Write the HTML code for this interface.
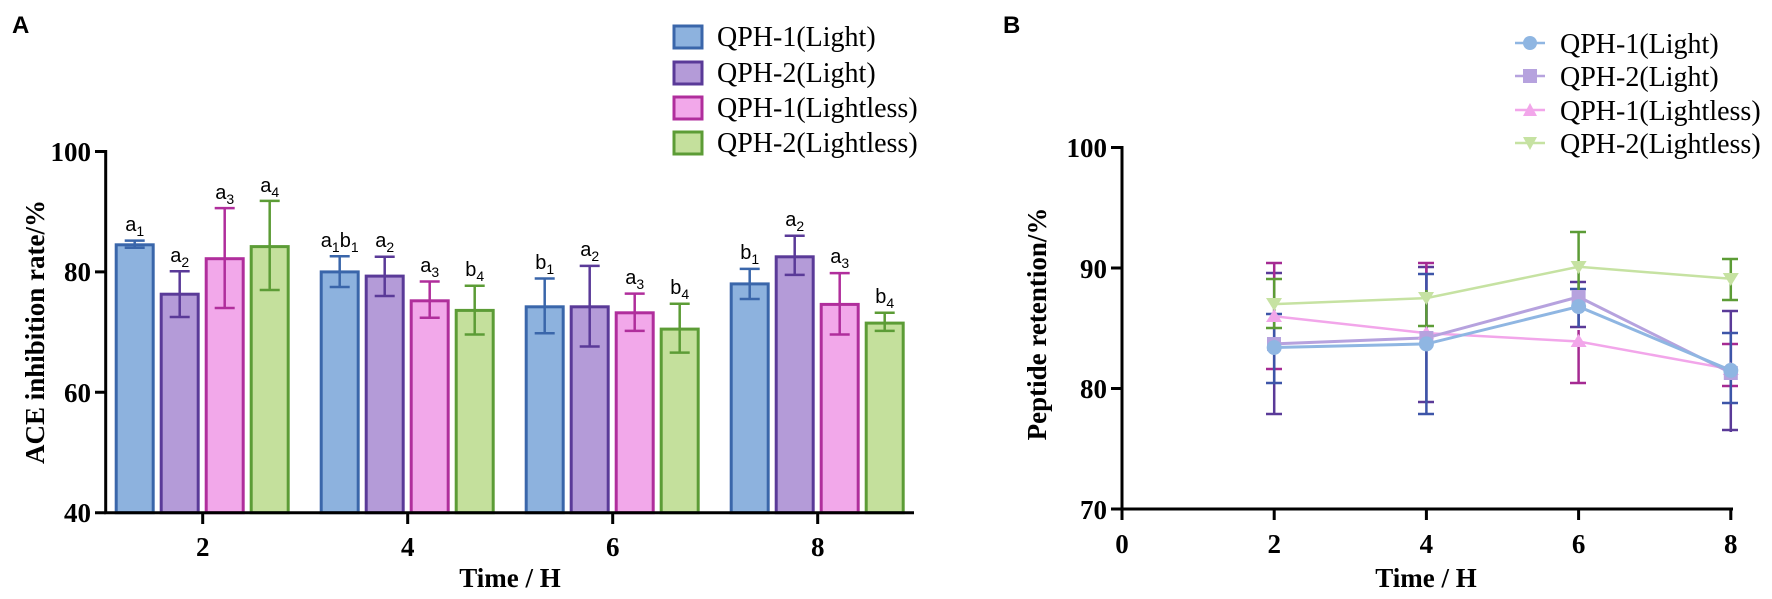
<!DOCTYPE html>
<html><head><meta charset="utf-8"><style>
html,body{margin:0;padding:0;background:#fff;}
svg{display:block;}
.t{font-family:"Liberation Serif",serif;font-weight:bold;font-size:27px;fill:#000;}
.lg{font-family:"Liberation Serif",serif;font-size:28px;fill:#000;}
.an{font-family:"Liberation Sans",sans-serif;font-size:20px;fill:#000;}
.an tspan.s{font-size:14px;}
</style></head><body>
<svg width="1772" height="599" viewBox="0 0 1772 599" xmlns="http://www.w3.org/2000/svg">
<text x="12" y="33" font-family="Liberation Sans,sans-serif" font-weight="bold" font-size="24">A</text>
<text x="1003" y="33" font-family="Liberation Sans,sans-serif" font-weight="bold" font-size="24">B</text>

<!-- Panel A bars -->
<g stroke-width="3">
<g fill="#8db2de" stroke="#3a66aa">
<rect x="116.2" y="244.8" width="37" height="267.9"/>
<rect x="321.2" y="271.9" width="37" height="240.8"/>
<rect x="526.2" y="306.8" width="37" height="205.9"/>
<rect x="731.2" y="283.9" width="37" height="228.8"/>
</g>
<g fill="#b49bd8" stroke="#5a3a98">
<rect x="161.2" y="294.2" width="37" height="218.5"/>
<rect x="366.2" y="276.1" width="37" height="236.6"/>
<rect x="571.2" y="306.8" width="37" height="205.9"/>
<rect x="776.2" y="256.8" width="37" height="255.9"/>
</g>
<g fill="#f2a8ea" stroke="#b02e9c">
<rect x="206.2" y="258.7" width="37" height="254"/>
<rect x="411.2" y="300.8" width="37" height="211.9"/>
<rect x="616.2" y="312.8" width="37" height="199.9"/>
<rect x="821.2" y="304.4" width="37" height="208.3"/>
</g>
<g fill="#c4e09c" stroke="#5c9c36">
<rect x="251.2" y="246.6" width="37" height="266.1"/>
<rect x="456.2" y="310.4" width="37" height="202.3"/>
<rect x="661.2" y="329.1" width="37" height="183.6"/>
<rect x="866.2" y="323.1" width="37" height="189.6"/>
</g>
</g>
<!-- Panel A error bars -->
<g stroke-width="2.5" fill="none">
<path stroke="#3a66aa" d="M134.7 247.8V240.6M124.7 240.6H144.7M124.7 247.8H144.7 M339.7 287V256.2M329.7 256.2H349.7M329.7 287H349.7 M544.7 333.3V278.5M534.7 278.5H554.7M534.7 333.3H554.7 M749.7 299V268.9M739.7 268.9H759.7M739.7 299H759.7"/>
<path stroke="#5a3a98" d="M179.7 317V271.3M169.7 271.3H189.7M169.7 317H189.7 M384.7 296V256.8M374.7 256.8H394.7M374.7 296H394.7 M589.7 346.5V265.9M579.7 265.9H599.7M579.7 346.5H599.7 M794.7 274.9V235.8M784.7 235.8H804.7M784.7 274.9H804.7"/>
<path stroke="#b02e9c" d="M224.7 308V208.1M214.7 208.1H234.7M214.7 308H234.7 M429.7 317.7V281.5M419.7 281.5H439.7M419.7 317.7H439.7 M634.7 330.9V293.6M624.7 293.6H644.7M624.7 330.9H644.7 M839.7 334.5V273.1M829.7 273.1H849.7M829.7 334.5H849.7"/>
<path stroke="#5c9c36" d="M269.7 290V200.9M259.7 200.9H279.7M259.7 290H279.7 M474.7 334.5V285.7M464.7 285.7H484.7M464.7 334.5H484.7 M679.7 352.6V303.8M669.7 303.8H689.7M669.7 352.6H689.7 M884.7 330.9V312.8M874.7 312.8H894.7M874.7 330.9H894.7"/>
</g>
<!-- annotations A -->
<g class="an" text-anchor="middle">
<text x="134.7" y="231">a<tspan class="s" dy="5">1</tspan></text>
<text x="179.7" y="262">a<tspan class="s" dy="5">2</tspan></text>
<text x="224.7" y="199">a<tspan class="s" dy="5">3</tspan></text>
<text x="269.7" y="192">a<tspan class="s" dy="5">4</tspan></text>
<text x="339.7" y="247">a<tspan class="s" dy="5">1</tspan><tspan dy="-5">b</tspan><tspan class="s" dy="5">1</tspan></text>
<text x="384.7" y="247">a<tspan class="s" dy="5">2</tspan></text>
<text x="429.7" y="272">a<tspan class="s" dy="5">3</tspan></text>
<text x="474.7" y="276">b<tspan class="s" dy="5">4</tspan></text>
<text x="544.7" y="269">b<tspan class="s" dy="5">1</tspan></text>
<text x="589.7" y="256">a<tspan class="s" dy="5">2</tspan></text>
<text x="634.7" y="284">a<tspan class="s" dy="5">3</tspan></text>
<text x="679.7" y="294">b<tspan class="s" dy="5">4</tspan></text>
<text x="749.7" y="259">b<tspan class="s" dy="5">1</tspan></text>
<text x="794.7" y="226">a<tspan class="s" dy="5">2</tspan></text>
<text x="839.7" y="263">a<tspan class="s" dy="5">3</tspan></text>
<text x="884.7" y="303">b<tspan class="s" dy="5">4</tspan></text>
</g>
<!-- Panel A axes -->
<g stroke="#000" stroke-width="3" fill="none">
<path d="M105.7 150V514.2M104.2 512.7H914"/>
<path d="M95 151.5H105.7M95 271.9H105.7M95 392.3H105.7M95 512.7H105.7"/>
<path d="M202.7 512.7V524M407.7 512.7V524M612.7 512.7V524M817.7 512.7V524"/>
</g>
<g class="t" text-anchor="end">
<text x="91" y="161">100</text><text x="91" y="281">80</text><text x="91" y="402">60</text><text x="91" y="522">40</text>
</g>
<g class="t" text-anchor="middle">
<text x="202.7" y="556">2</text><text x="407.7" y="556">4</text><text x="612.7" y="556">6</text><text x="817.7" y="556">8</text>
<text x="510" y="587">Time / H</text>
<text transform="translate(44,332) rotate(-90)">ACE inhibition rate/%</text>
</g>
<!-- legend A -->
<g stroke-width="3">
<rect x="674" y="26" width="28" height="22" fill="#8db2de" stroke="#3a66aa"/>
<rect x="674" y="62" width="28" height="22" fill="#b49bd8" stroke="#5a3a98"/>
<rect x="674" y="97" width="28" height="22" fill="#f2a8ea" stroke="#b02e9c"/>
<rect x="674" y="132" width="28" height="22" fill="#c4e09c" stroke="#5c9c36"/>
</g>
<g class="lg">
<text x="717" y="46">QPH-1(Light)</text>
<text x="717" y="82">QPH-2(Light)</text>
<text x="717" y="117">QPH-1(Lightless)</text>
<text x="717" y="152">QPH-2(Lightless)</text>
</g>

<!-- Panel B axes -->
<g stroke="#000" stroke-width="3" fill="none">
<path d="M1122 146V510.5M1120.5 509H1733"/>
<path d="M1111 147.5H1122M1111 268H1122M1111 388.5H1122M1111 509H1122"/>
<path d="M1122 509V520M1274.2 509V520M1426.4 509V520M1578.6 509V520M1730.8 509V520"/>
</g>
<g class="t" text-anchor="end">
<text x="1107" y="157">100</text><text x="1107" y="278">90</text><text x="1107" y="398">80</text><text x="1107" y="519">70</text>
</g>
<g class="t" text-anchor="middle">
<text x="1122" y="553">0</text><text x="1274.2" y="553">2</text><text x="1426.4" y="553">4</text><text x="1578.6" y="553">6</text><text x="1730.8" y="553">8</text>
<text x="1426" y="587">Time / H</text>
<text transform="translate(1046,324) rotate(-90)">Peptide retention/%</text>
</g>
<!-- Panel B error bars -->
<g stroke-width="2.5" fill="none">
<path stroke="#5a3a98" d="M1274.2 273V414M1266 273H1282M1266 414H1282 M1426.4 267V402M1418 267H1434M1418 402H1434 M1578.6 282V327M1570 282H1586M1570 327H1586 M1730.8 311V432M1722 311H1738M1722 430H1738"/>
<path stroke="#a52a92" d="M1274.2 263V369M1266 263H1282M1266 369H1282 M1426.4 263V330M1418 263H1434 M1578.6 330V383M1570 383H1586 M1730.8 344V386M1722 344H1738M1722 386H1738"/>
<path stroke="#3d55a8" d="M1274.2 314V383M1266 314H1282M1266 383H1282 M1426.4 274V414M1418 274H1434M1418 414H1434 M1578.6 289V327M1570 289H1586 M1730.8 333V403M1722 333H1738M1722 403H1738"/>
<path stroke="#5c9c36" d="M1274.2 279V328M1266 279H1282M1266 328H1282 M1426.4 290V326M1418 326H1434 M1578.6 232V300M1570 232H1586 M1730.8 259V300M1722 259H1738M1722 300H1738"/>
</g>
<!-- Panel B lines -->
<g fill="none" stroke-width="2.5">
<polyline stroke="#f2a6ea" points="1274.2,316.2 1426.4,333.1 1578.6,341.5 1730.8,369.2"/>
<polyline stroke="#c6e2a2" points="1274.2,304.1 1426.4,298.1 1578.6,266.8 1730.8,278.8"/>
<polyline stroke="#b6a2de" stroke-width="3" points="1274.2,343.9 1426.4,337.9 1578.6,296.9 1730.8,372.8"/>
<polyline stroke="#8fb6e2" stroke-width="3" points="1274.2,347.5 1426.4,343.9 1578.6,306.6 1730.8,370.4"/>
</g>
<!-- markers -->
<g fill="#c6e2a2">
<path d="M1266 298H1282L1274.2 311Z"/><path d="M1418 292H1434L1426.4 305Z"/><path d="M1570.6 261H1586.6L1578.6 274Z"/><path d="M1722.8 273H1738.8L1730.8 286Z"/>
</g>
<g fill="#f2a6ea">
<path d="M1274.2 309L1282 322H1266Z"/><path d="M1426.4 326L1434 339H1418Z"/><path d="M1578.6 334L1586.6 347H1570.6Z"/><path d="M1730.8 362L1738.8 375H1722.8Z"/>
</g>
<g fill="#b6a2de">
<rect x="1267" y="337" width="14" height="14"/><rect x="1419.4" y="331" width="14" height="14"/><rect x="1571.6" y="290" width="14" height="14"/><rect x="1723.8" y="366" width="14" height="14"/>
</g>
<g fill="#8fb6e2">
<circle cx="1274.2" cy="347.5" r="7.5"/><circle cx="1426.4" cy="343.9" r="7.5"/><circle cx="1578.6" cy="306.6" r="7.5"/><circle cx="1730.8" cy="370.4" r="7.5"/>
</g>
<!-- legend B -->
<g stroke-width="2.5">
<path stroke="#8fb6e2" d="M1515 43H1545"/><circle cx="1530" cy="43" r="7" fill="#8fb6e2"/>
<path stroke="#b6a2de" d="M1515 76H1545"/><rect x="1523" y="69" width="14" height="14" fill="#b6a2de"/>
<path stroke="#f2a6ea" d="M1515 110H1545"/><path d="M1530 103L1537 116H1523Z" fill="#f2a6ea"/>
<path stroke="#c6e2a2" d="M1515 143H1545"/><path d="M1523 137H1537L1530 150Z" fill="#c6e2a2"/>
</g>
<g class="lg">
<text x="1560" y="53">QPH-1(Light)</text>
<text x="1560" y="86">QPH-2(Light)</text>
<text x="1560" y="120">QPH-1(Lightless)</text>
<text x="1560" y="153">QPH-2(Lightless)</text>
</g>
</svg>
</body></html>
